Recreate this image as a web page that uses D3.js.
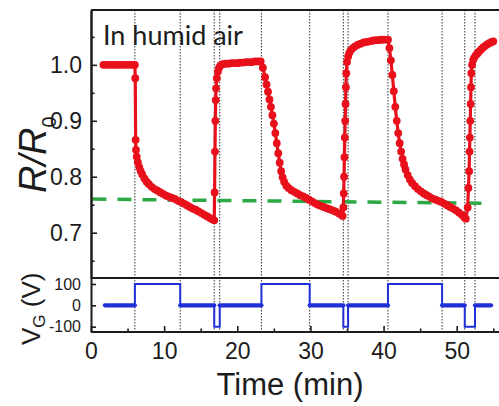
<!DOCTYPE html>
<html><head><meta charset="utf-8">
<script src="https://cdn.jsdelivr.net/npm/d3@7"></script>
<style>html,body{margin:0;padding:0;background:#fff;} svg{display:block;}</style>
</head><body>
<svg id="c" width="499" height="406"></svg>
<script>
// ---- data ----
const timeMin = [
1.7,2.1,2.5,2.9,3.3,3.7,4.1,4.5,4.9,5.3,5.7,6.0,
6.05,6.1,6.15,6.25,6.4,6.6,6.8,7.0,7.3,7.6,7.9,8.3,8.7,9.1,9.5,9.9,10.3,10.7,11.1,11.5,11.9,12.3,12.7,13.1,13.5,13.9,14.3,14.7,15.1,15.5,15.9,16.3,16.6,16.85,
16.9,16.95,17.0,17.05,17.1,17.2,17.35,17.5,17.7,18.0,18.4,18.8,19.2,19.6,20.0,20.4,20.8,21.2,21.6,22.0,22.4,22.8,23.2,
23.5,23.8,24.0,24.2,24.4,24.6,24.8,25.0,25.2,25.4,25.6,25.8,26.0,26.2,26.4,26.7,27.0,27.4,27.8,28.2,28.6,29.0,29.4,29.8,30.2,30.6,31.0,31.4,31.8,32.2,32.6,33.0,33.4,33.8,34.1,34.4,
34.5,34.55,34.6,34.65,34.7,34.75,34.8,34.85,34.9,35.0,35.15,35.3,35.5,35.8,36.1,36.5,36.9,37.3,37.7,38.1,38.5,38.9,39.3,39.7,40.1,40.6,
40.8,41.0,41.2,41.4,41.6,41.8,42.0,42.2,42.4,42.6,42.8,43.0,43.3,43.6,43.9,44.3,44.7,45.1,45.5,45.9,46.3,46.7,47.1,47.5,47.9,48.3,48.7,49.1,49.5,49.9,50.3,50.7,51.0,51.25,
51.5,51.6,51.7,51.75,51.8,51.85,51.9,51.95,52.0,52.1,52.25,52.4,52.6,52.8,53.0,53.3,53.6,53.9,54.2,54.5,54.8,55.0
];
const ratio = [
1.000,1.000,1.000,1.000,1.000,1.000,1.000,1.000,1.000,1.000,1.000,1.000,
0.976,0.866,0.848,0.836,0.826,0.817,0.810,0.804,0.797,0.791,0.787,0.782,0.778,0.775,0.772,0.769,0.766,0.764,0.762,0.760,0.757,0.755,0.752,0.749,0.746,0.743,0.741,0.738,0.735,0.732,0.729,0.726,0.724,0.722,
0.772,0.845,0.900,0.937,0.958,0.976,0.988,0.995,0.999,1.001,1.002,1.002,1.003,1.003,1.003,1.004,1.004,1.005,1.005,1.005,1.006,1.006,1.006,
0.995,0.978,0.965,0.952,0.938,0.925,0.910,0.895,0.878,0.860,0.842,0.825,0.810,0.799,0.791,0.784,0.780,0.776,0.773,0.770,0.767,0.765,0.762,0.759,0.756,0.753,0.750,0.748,0.746,0.744,0.742,0.740,0.738,0.735,0.733,0.730,
0.745,0.770,0.800,0.835,0.870,0.900,0.930,0.960,0.985,1.005,1.015,1.021,1.026,1.030,1.033,1.036,1.038,1.040,1.041,1.042,1.043,1.044,1.044,1.045,1.045,1.045,
1.030,1.008,0.982,0.953,0.925,0.900,0.878,0.860,0.845,0.832,0.822,0.813,0.803,0.795,0.789,0.783,0.778,0.774,0.770,0.767,0.764,0.761,0.759,0.757,0.755,0.752,0.749,0.746,0.743,0.740,0.736,0.732,0.728,0.725,
0.745,0.780,0.810,0.845,0.870,0.900,0.930,0.960,0.985,1.000,1.009,1.013,1.017,1.020,1.023,1.027,1.031,1.034,1.037,1.039,1.041,1.042
];
const gateTime = [1.9,6.0,12.2,16.85,17.6,23.3,29.9,34.5,35.15,40.6,48.0,51.1,52.5,54.7];
const gateVolt = [0,100,0,-100,0,100,0,-100,0,100,0,-100,0,0];
const switchTimes = [6.0,12.2,16.85,17.6,23.3,29.9,34.5,35.15,40.6,48.0,51.1,52.5];
const thresholdTime = [0.2,54.6];
const thresholdRatio = [0.760,0.7525];
const xTicks = [0,10,20,30,40,50];
const xMinorTicks = [5,15,25,35,45,55];
const yTicks = [0.7,0.8,0.9,1.0];
const yMinorTicks = [0.65,0.75,0.85,0.95,1.05];
const vTicks = [-100,0,100];
const vTickLabels = ["-100","0","100"];

// ---- scales ----
const svg = d3.select("#c");
const x = d3.scaleLinear().domain([0,56]).range([91,500.6]);
const yR = d3.scaleLinear().domain([0.619,1.098]).range([278,10]);
const yV = d3.scaleLinear().domain([-125,128]).range([332,278]);
const FONT = "'Liberation Sans', Arial, sans-serif";
const INK = "#1c1c1c";

// dotted switching lines
svg.append("g").selectAll("line").data(switchTimes).join("line")
  .attr("x1", d => x(d)).attr("x2", d => x(d))
  .attr("y1", yR.range()[1]).attr("y2", yV.range()[0])
  .attr("stroke", "#333").attr("stroke-width", 1).attr("stroke-dasharray", "1.5,1.5");

// green dashed reference line
const thr = thresholdTime.map((t,i) => [t, thresholdRatio[i]]);
svg.append("path").datum(thr)
  .attr("d", d3.line().x(d => x(d[0])).y(d => yR(d[1])))
  .attr("fill", "none").attr("stroke", "#2ca845").attr("stroke-width", 3.5)
  .attr("stroke-dasharray", "14,11");

// red series
const RED = "#e8101a";
const red = timeMin.map((t,i) => [t, ratio[i]]);
svg.append("path").datum(red)
  .attr("d", d3.line().x(d => x(d[0])).y(d => yR(d[1])))
  .attr("fill", "none").attr("stroke", RED).attr("stroke-width", 3.2).attr("stroke-linejoin", "round");
svg.append("g").selectAll("circle").data(red).join("circle")
  .attr("cx", d => x(d[0])).attr("cy", d => yR(d[1])).attr("r", 3.9)
  .attr("fill", RED);

// blue gate voltage
const BLUE = "#1f30d8";
const gate = gateTime.map((t,i) => [t, gateVolt[i]]);
svg.append("path").datum(gate)
  .attr("d", d3.line().curve(d3.curveStepAfter).x(d => x(d[0])).y(d => yV(d[1])))
  .attr("fill", "none").attr("stroke", BLUE).attr("stroke-width", 2);
const zeroSegs = gate.slice(0,-1).map((d,i) => [d, gate[i+1]]).filter(s => s[0][1] === 0);
svg.append("g").selectAll("line").data(zeroSegs).join("line")
  .attr("x1", s => x(s[0][0])).attr("x2", s => x(s[1][0]))
  .attr("y1", s => yV(0)).attr("y2", s => yV(0))
  .attr("stroke", BLUE).attr("stroke-width", 4.2).attr("stroke-linecap", "round");

// frame
const fr = svg.append("g").attr("stroke", INK).attr("stroke-width", 2);
fr.append("line").attr("x1", x.range()[0]).attr("x2", 499).attr("y1", yR.range()[1]).attr("y2", yR.range()[1]);
fr.append("line").attr("x1", x.range()[0]).attr("x2", 499).attr("y1", yR.range()[0]).attr("y2", yR.range()[0]);

// axes
function style(g, size) {
  g.select(".domain").attr("stroke", INK).attr("stroke-width", 2);
  g.selectAll(".tick line").attr("stroke", INK).attr("stroke-width", 1.6);
  g.selectAll("text").attr("font-family", FONT).attr("font-size", size).attr("fill", INK);
}
const gyR = svg.append("g").attr("transform", `translate(${x.range()[0]},0)`)
  .call(d3.axisLeft(yR).tickValues(yTicks).tickSize(-6).tickSizeOuter(0).tickPadding(9).tickFormat(d3.format(".1f")));
style(gyR, 23);
svg.append("g").attr("transform", `translate(${x.range()[0]},0)`)
  .call(d3.axisLeft(yR).tickValues(yMinorTicks).tickSize(-3.5).tickSizeOuter(0).tickFormat(""))
  .call(g => style(g, 0));

const gyV = svg.append("g").attr("transform", `translate(${x.range()[0]},0)`)
  .call(d3.axisLeft(yV).tickValues(vTicks).tickSize(-5).tickSizeOuter(0).tickPadding(10)
    .tickFormat((d,i) => vTickLabels[i]));
style(gyV, 16);

const gx = svg.append("g").attr("transform", `translate(0,${yV.range()[0]})`)
  .call(d3.axisBottom(x).tickValues(xTicks).tickSize(-6).tickSizeOuter(0).tickPadding(11).tickFormat(d3.format("d")));
style(gx, 23);
gx.select(".domain").attr("d", `M${x.range()[0]},0H499`);
svg.append("g").attr("transform", `translate(0,${yV.range()[0]})`)
  .call(d3.axisBottom(x).tickValues(xMinorTicks).tickSize(-3.5).tickSizeOuter(0).tickFormat(""))
  .call(g => { style(g, 0); g.select(".domain").remove(); });

// texts
svg.append("text").attr("x", 103).attr("y", 45)
  .attr("font-family", "Lato, 'Liberation Sans', sans-serif").attr("font-size", 27).attr("fill", INK)
  .text("In humid air");

svg.append("text").attr("x", 290).attr("y", 395).attr("text-anchor", "middle")
  .attr("font-family", FONT).attr("font-size", 31).attr("fill", INK)
  .text("Time (min)");

const yl = svg.append("text").attr("transform", "translate(46,193) rotate(-90)")
  .attr("font-family", FONT).attr("font-size", 38).attr("fill", INK);
yl.append("tspan").attr("font-style", "italic").text("R/R");
yl.append("tspan").attr("font-size", 20).attr("dy", 10).text("0");

const vl = svg.append("text").attr("transform", "translate(40,345) rotate(-90)")
  .attr("font-family", FONT).attr("font-size", 26).attr("fill", INK);
vl.append("tspan").text("V");
vl.append("tspan").attr("font-size", 17).attr("dy", 5).text("G");
vl.append("tspan").attr("dy", -5).text(" (V)");
</script>
</body></html>
